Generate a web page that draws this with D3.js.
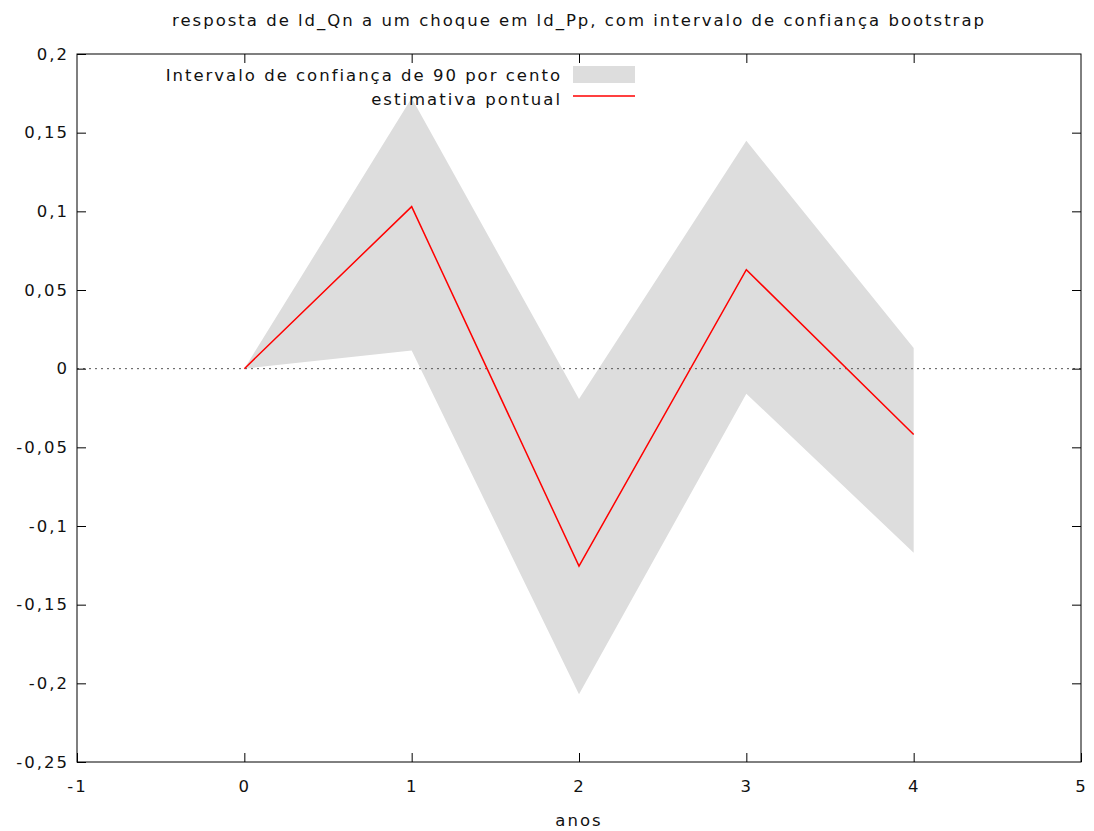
<!DOCTYPE html>
<html>
<head>
<meta charset="utf-8">
<script src="https://cdn.jsdelivr.net/npm/d3@7"></script>
<style>
  body { margin: 0; background: #fff; }
  svg text { font-family: "DejaVu Sans", Verdana, sans-serif; fill: #111; letter-spacing: 2px; }
</style>
</head>
<body>
<div class="svg-container"></div>
<script>
// horizon (anos)
const periods = [0, 1, 2, 3, 4];
// point estimate
const estimate = [0, 0.103, -0.1255, 0.0629, -0.0419];
// bootstrap 90% band
const upper = [0, 0.172, -0.0193, 0.1448, 0.0131];
const lower = [0, 0.0116, -0.207, -0.0159, -0.117];

const xTicks = [-1, 0, 1, 2, 3, 4, 5];
const yTicks = [-0.25, -0.2, -0.15, -0.1, -0.05, 0, 0.05, 0.1, 0.15, 0.2];

const titleText = "resposta de ld_Qn a um choque em ld_Pp, com intervalo de confiança bootstrap";
const bandLabel = "Intervalo de confiança de 90 por cento";
const lineLabel = "estimativa pontual";

const W = 1094, H = 831;
const margin = { top: 54, right: 13, bottom: 69, left: 77 };
const width = W - margin.left - margin.right;
const height = H - margin.top - margin.bottom;
const fontSize = "16.5px";

// gnuplot-ish labels: comma decimal, plain hyphen minus
const fmt = v => {
    if (Math.abs(v) < 1e-9) return "0";
    return String(+v.toFixed(2)).replace(".", ",");
};

const svg = d3.select(".svg-container").append("svg")
    .attr("width", W)
    .attr("height", H);

const chart = svg.append("g")
    .attr("transform", `translate(${margin.left}, ${margin.top})`);

const x = d3.scaleLinear().domain([-1, 5]).range([0, width]);
const y = d3.scaleLinear().domain([-0.25, 0.2]).range([height, 0]);

/**
 *  Title
 */
svg.append("text")
    .attr("x", margin.left + width / 2)
    .attr("y", 26)
    .attr("text-anchor", "middle")
    .style("font-size", fontSize)
    .text(titleText);

/**
 *  Confidence band
 */
const rows = periods.map((p, i) => ({ p, lo: lower[i], hi: upper[i], est: estimate[i] }));

chart.append("path")
    .datum(rows)
    .attr("fill", "#dddddd")
    .attr("d", d3.area().x(d => x(d.p)).y0(d => y(d.lo)).y1(d => y(d.hi)));

/**
 *  Zero line
 */
chart.append("line")
    .attr("x1", 0).attr("x2", width)
    .attr("y1", y(0)).attr("y2", y(0))
    .attr("stroke", "#555")
    .attr("stroke-width", 1)
    .attr("stroke-dasharray", "2,4");

/**
 *  Point estimate
 */
chart.append("path")
    .datum(rows)
    .attr("fill", "none")
    .attr("stroke", "#ff0000")
    .attr("stroke-width", 1.5)
    .attr("d", d3.line().x(d => x(d.p)).y(d => y(d.est)));

/**
 *  Axes (inward ticks, mirrored)
 */
const tickLen = 9;
const styleAxis = g => {
    g.select(".domain").remove();
    g.selectAll(".tick line").attr("stroke", "#000");
    g.selectAll("text").style("font-size", fontSize).attr("fill", "#111");
};

chart.append("g")
    .attr("transform", `translate(0, ${height})`)
    .call(d3.axisBottom(x).tickValues(xTicks).tickFormat(fmt).tickSizeInner(-tickLen).tickPadding(18))
    .call(styleAxis);

chart.append("g")
    .call(d3.axisTop(x).tickValues(xTicks.slice(1, -1)).tickFormat("").tickSizeInner(-tickLen))
    .call(styleAxis);

chart.append("g")
    .call(d3.axisLeft(y).tickValues(yTicks).tickFormat(fmt).tickSizeInner(-tickLen).tickPadding(8))
    .call(styleAxis);

chart.append("g")
    .attr("transform", `translate(${width}, 0)`)
    .call(d3.axisRight(y).tickValues(yTicks.slice(1, -1)).tickFormat("").tickSizeInner(-tickLen))
    .call(styleAxis);

// frame
chart.append("rect")
    .attr("x", 0).attr("y", 0)
    .attr("width", width).attr("height", height)
    .attr("fill", "none")
    .attr("stroke", "#000")
    .attr("stroke-width", 1);

svg.append("text")
    .attr("x", margin.left + width / 2)
    .attr("y", 826)
    .attr("text-anchor", "middle")
    .style("font-size", fontSize)
    .text("anos");

/**
 *  Legend
 */
const legend = svg.append("g");
legend.append("text")
    .attr("x", 562).attr("y", 81)
    .attr("text-anchor", "end")
    .style("font-size", fontSize)
    .text(bandLabel);
legend.append("rect")
    .attr("x", 573).attr("y", 66)
    .attr("width", 62).attr("height", 17)
    .attr("fill", "#dddddd");
legend.append("text")
    .attr("x", 562).attr("y", 105)
    .attr("text-anchor", "end")
    .style("font-size", fontSize)
    .text(lineLabel);
legend.append("line")
    .attr("x1", 573).attr("x2", 635)
    .attr("y1", 96).attr("y2", 96)
    .attr("stroke", "#ff0000")
    .attr("stroke-width", 1.5);
</script>
</body>
</html>
